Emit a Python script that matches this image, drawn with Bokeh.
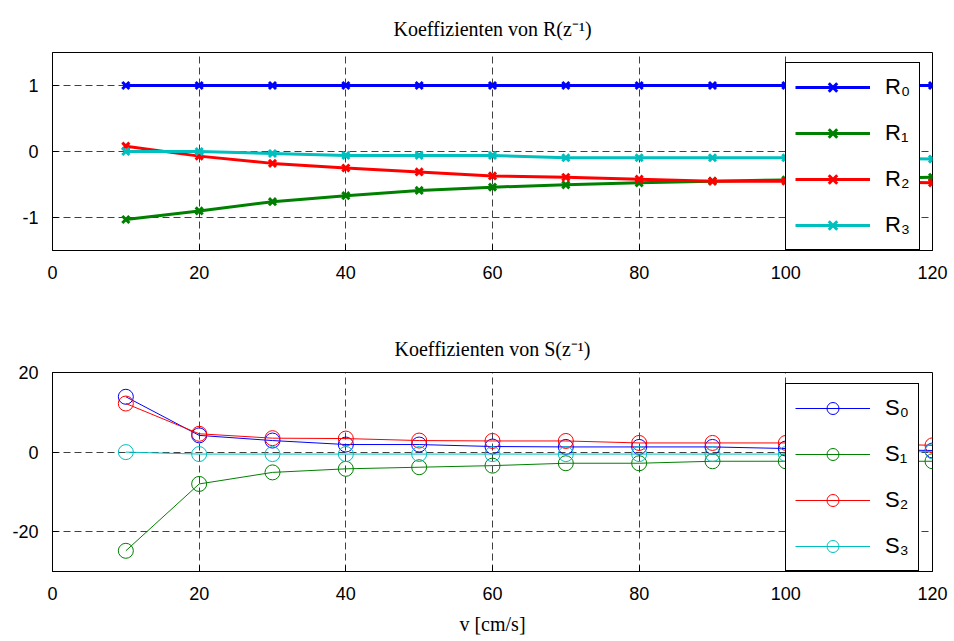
from bokeh.plotting import figure
from bokeh.models import Legend, LegendItem, FixedTicker, Range1d
from bokeh.layouts import column
from bokeh.embed import file_html
from bokeh.resources import INLINE

v = [10, 20, 30, 40, 50, 60, 70, 80, 90, 100, 110, 120]

R0 = [1, 1, 1, 1, 1, 1, 1, 1, 1, 1, 1, 1]
R1 = [-1.03, -0.90, -0.76, -0.67, -0.59, -0.54, -0.505, -0.475, -0.45, -0.43, -0.41, -0.39]
R2 = [0.08, -0.07, -0.18, -0.25, -0.31, -0.37, -0.39, -0.42, -0.45, -0.45, -0.46, -0.475]
R3 = [0.0, 0.0, -0.03, -0.06, -0.06, -0.06, -0.095, -0.095, -0.095, -0.095, -0.10, -0.115]

S0 = [13.9, 4.2, 2.9, 1.9, 1.9, 1.4, 1.3, 1.3, 1.3, 0.9, 0.7, 0.4]
S1 = [-24.8, -8.0, -5.1, -4.2, -3.8, -3.4, -2.8, -2.8, -2.3, -2.3, -2.3, -2.3]
S2 = [12.2, 4.6, 3.5, 3.4, 2.9, 2.8, 2.8, 2.3, 2.3, 2.3, 2.2, 1.7]
S3 = [0.0, -0.5, -0.5, -0.5, -0.5, -0.5, -0.5, -0.5, -0.5, -0.5, -0.4, 0.2]

x_ticks = [0, 20, 40, 60, 80, 100, 120]
r_ticks = [-1, 0, 1]
s_ticks = [-20, 0, 20]

colors = ["#0000ff", "#008000", "#ff0000", "#00bfbf"]

SANS = "Liberation Sans"
SERIF = "Liberation Serif"


def style(p, yticks):
    p.xaxis.ticker = FixedTicker(ticks=x_ticks)
    p.yaxis.ticker = FixedTicker(ticks=yticks)
    p.yaxis.major_label_overrides = {t: str(t) for t in yticks}
    p.xgrid.ticker = FixedTicker(ticks=x_ticks)
    p.ygrid.ticker = FixedTicker(ticks=yticks)
    for ax in (p.xaxis[0], p.yaxis[0]):
        ax.major_label_text_font = SANS
        ax.major_label_text_font_size = "18px"
        ax.major_label_text_color = "black"
        ax.axis_line_color = "black"
        ax.axis_line_width = 1
        ax.major_tick_in = 6
        ax.major_tick_out = 0
        ax.minor_tick_line_color = None
        ax.major_tick_line_color = "black"
    p.xaxis.major_label_standoff = 15
    p.yaxis.major_label_standoff = 14
    for g in (p.xgrid[0], p.ygrid[0]):
        g.grid_line_color = "black"
        g.grid_line_dash = "7 4"
        g.grid_line_alpha = 0.75
        g.grid_line_width = 1
    p.outline_line_color = "black"
    p.outline_line_alpha = 1
    p.outline_line_width = 1
    p.title.align = "center"
    p.title.text_font = SERIF
    p.title.text_font_size = "20px"
    p.title.text_font_style = "normal"
    p.title.text_color = "black"
    p.title.standoff = 25
    p.background_fill_color = "white"
    p.border_fill_color = "white"


def make_legend(items):
    return Legend(items=items, location=(733, 0), glyph_width=75, glyph_height=30,
                  label_height=30, spacing=16, padding=9, label_standoff=15,
                  label_text_font=SANS, label_text_font_size="22px",
                  label_text_color="black",
                  border_line_color="black", border_line_width=1, border_line_alpha=1,
                  background_fill_color="white", background_fill_alpha=1)


p1 = figure(width=954, height=300, x_range=Range1d(0, 120), y_range=Range1d(-1.5, 1.5),
            output_backend="svg", toolbar_location=None,
            title="Koeffizienten von R(z\u207b\u00b9)",
            min_border_left=52, min_border_right=22, min_border_top=52, min_border_bottom=50)
style(p1, r_ticks)

items1 = []
for name, ys, c in zip(["R\u2080", "R\u2081", "R\u2082", "R\u2083"], [R0, R1, R2, R3], colors):
    ln = p1.line(v, ys, line_color=c, line_width=3)
    mk = p1.scatter(v, ys, marker="x", size=10, line_color=c, line_width=3)
    items1.append(LegendItem(label=name, renderers=[ln, mk]))
p1.add_layout(make_legend(items1))

p2 = figure(width=954, height=341, x_range=Range1d(0, 120), y_range=Range1d(-30, 20),
            output_backend="svg", toolbar_location=None,
            title="Koeffizienten von S(z\u207b\u00b9)",
            min_border_left=52, min_border_right=22, min_border_top=72, min_border_bottom=70)
style(p2, s_ticks)
p2.xaxis.axis_label = "v [cm/s]"
p2.xaxis.axis_label_text_font = SERIF
p2.xaxis.axis_label_text_font_size = "20px"
p2.xaxis.axis_label_text_font_style = "normal"
p2.xaxis.axis_label_text_color = "black"
p2.xaxis.axis_label_standoff = 10

items2 = []
for name, ys, c in zip(["S\u2080", "S\u2081", "S\u2082", "S\u2083"], [S0, S1, S2, S3], colors):
    ln = p2.line(v, ys, line_color=c, line_width=1)
    mk = p2.scatter(v, ys, marker="circle", size=15, line_color=c, line_width=1, fill_color=None)
    items2.append(LegendItem(label=name, renderers=[ln, mk]))
p2.add_layout(make_legend(items2))

layout = column(p1, p2, spacing=0)
open("out.html", "w").write(file_html(layout, INLINE))
